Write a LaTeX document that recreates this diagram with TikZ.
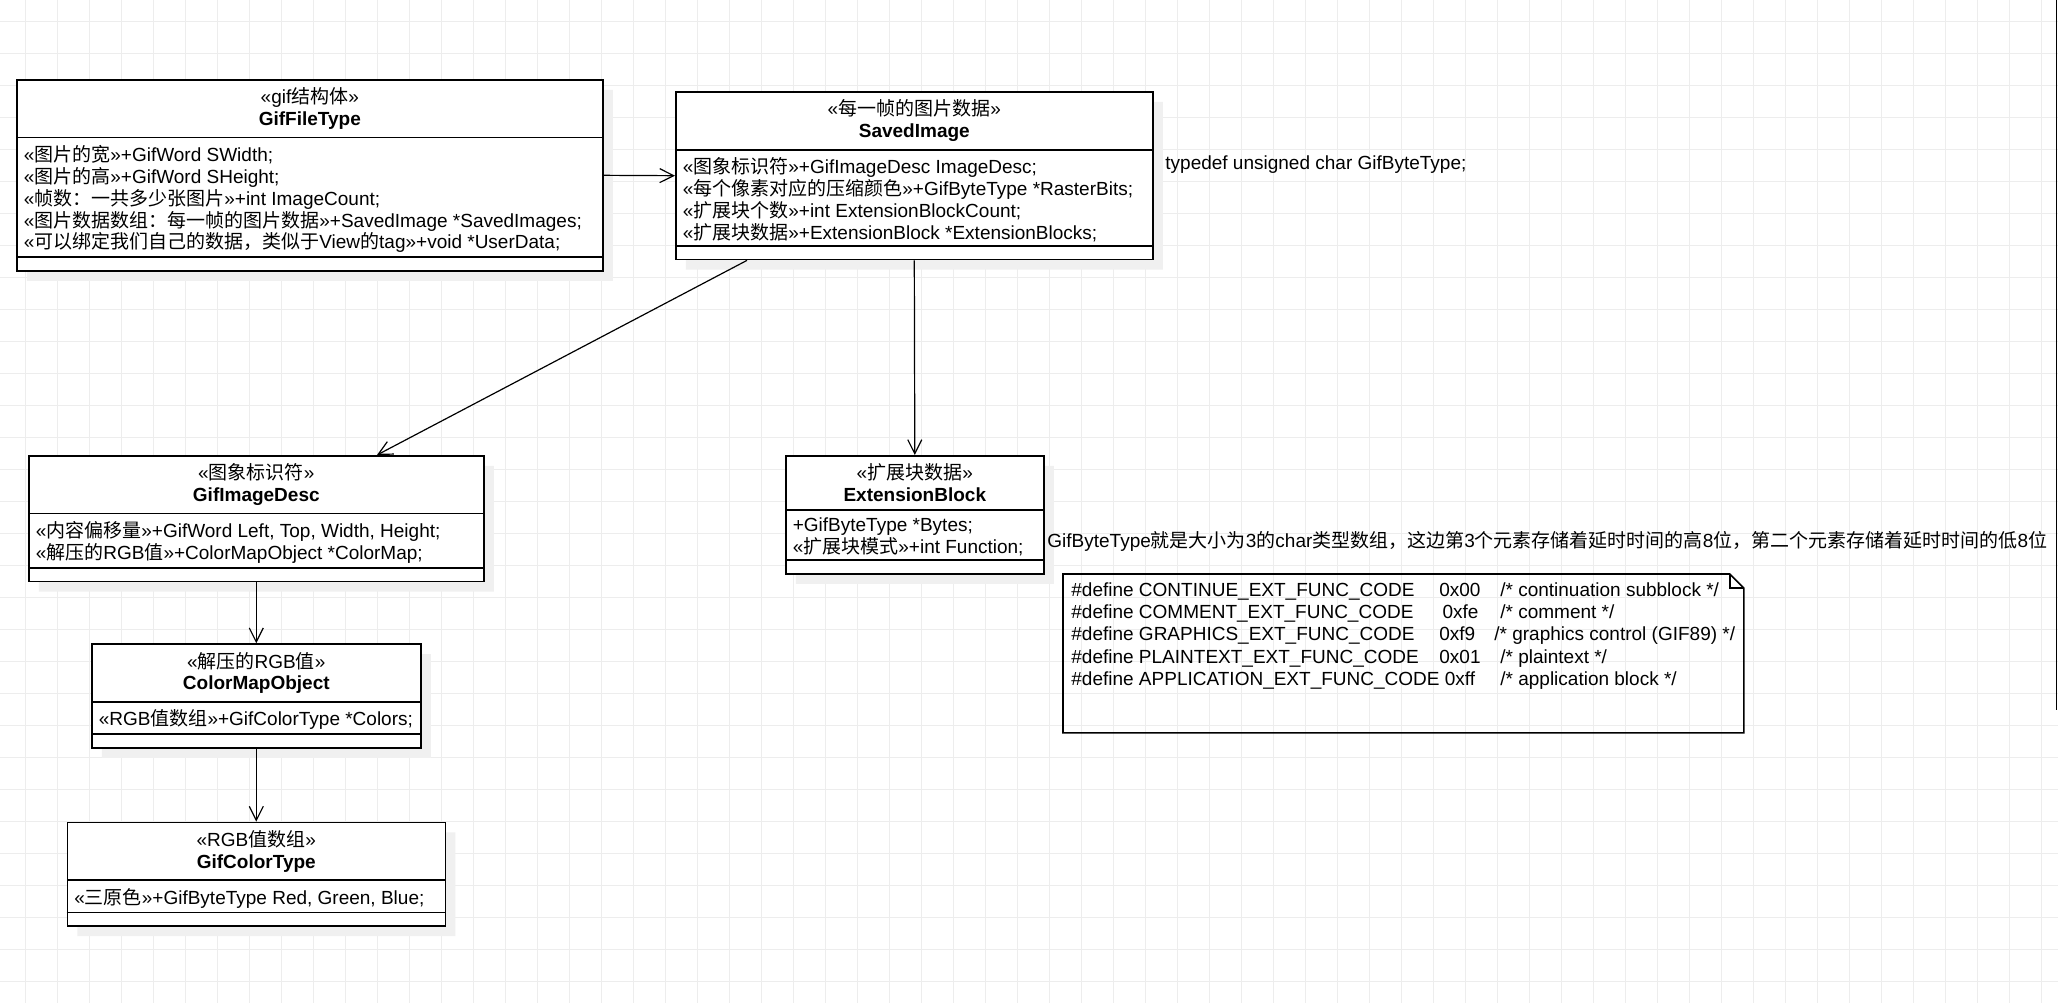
\documentclass[tikz,border=0pt]{standalone}
\usepackage{fontspec}
\setmainfont{Liberation Sans}
\newfontfamily\cjkfont{Noto Sans CJK SC}
\usetikzlibrary{arrows.meta,positioning,shapes.multipart,shadows}
\definecolor{gridgray}{RGB}{237,237,237}
\definecolor{shadowgray}{RGB}{240,240,240}
\newcommand{\zh}[1]{{\cjkfont #1}}
\newcommand{\umlhead}[3]{\parbox{#1}{\centering #2\\\textbf{#3}}}
% attribute compartment, with room left for the empty operation compartment
\newcommand{\umlattr}[2]{\parbox{#1}{#2\par\vspace*{5pt}}}
\newcommand{\defrow}[3]{\makebox[184pt][l]{\#define #1}\makebox[30.5pt][l]{#2}#3}

\begin{document}
\begin{tikzpicture}[
    x=0.5pt, y=-0.5pt,
    font=\fontsize{9.5}{10.9}\selectfont,
    umlclass/.style={draw,line width=0.8pt,fill=white,rectangle split,rectangle split parts=2,
      inner xsep=3.5pt,inner ysep=3.6pt,anchor=north west,
      drop shadow={shadow xshift=5pt,shadow yshift=-5pt,fill=shadowgray,opacity=1}},
    arrow/.style={-{Straight Barb[length=7pt,width=7pt]},line width=0.6pt},
    gridline/.style={gridgray,line width=0.5pt},
    notebox/.style={anchor=north west,inner xsep=4pt,inner ysep=4pt,align=left},
    plain/.style={inner sep=0pt,anchor=west}
  ]
    % canvas and grid
    \useasboundingbox[fill=white] (0,0) rectangle (2058,1003);
    \foreach \i in {0,...,63} {\draw[gridline] ({25.3+32*\i},0) -- ++(0,1003);}
    \foreach \j in {0,...,30} {\draw[gridline] (0,{21.3+32*\j}) -- ++(2058,0);}

    % classes
    \node[umlclass] (gft) at (16,79) {\umlhead{286pt}{«gif\zh{结构体}»}{GifFileType}
      \nodepart{two}\umlattr{286pt}{«\zh{图片的宽}»+GifWord SWidth;\\
      «\zh{图片的高}»+GifWord SHeight;\\
      «\zh{帧数：一共多少张图片}»+int ImageCount;\\
      «\zh{图片数据数组：每一帧的图片数据}»+SavedImage *SavedImages;\\
      «\zh{可以绑定我们自己的数据，类似于}View\zh{的}tag»+void *UserData;}};
    \node[umlclass] (si) at (675,91) {\umlhead{231.5pt}{«\zh{每一帧的图片数据}»}{SavedImage}
      \nodepart{two}\umlattr{231.5pt}{«\zh{图象标识符}»+GifImageDesc ImageDesc;\\
      «\zh{每个像素对应的压缩颜色}»+GifByteType *RasterBits;\\
      «\zh{扩展块个数}»+int ExtensionBlockCount;\\
      «\zh{扩展块数据}»+ExtensionBlock *ExtensionBlocks;}};
    \node[umlclass] (gid) at (28,455) {\umlhead{220.5pt}{«\zh{图象标识符}»}{GifImageDesc}
      \nodepart{two}\umlattr{220.5pt}{«\zh{内容偏移量}»+GifWord Left, Top, Width, Height;\\
      «\zh{解压的}RGB\zh{值}»+ColorMapObject *ColorMap;}};
    \node[umlclass] (eb) at (785,455) {\umlhead{122pt}{«\zh{扩展块数据}»}{ExtensionBlock}
      \nodepart{two}\umlattr{122pt}{+GifByteType *Bytes;\\
      «\zh{扩展块模式}»+int Function;}};
    \node[umlclass,below=30.5pt of gid] (cmo) {\umlhead{157.5pt}{«\zh{解压的}RGB\zh{值}»}{ColorMapObject}
      \nodepart{two}\umlattr{157.5pt}{\mbox{«RGB\zh{值数组}»+GifColorType *Colors;}}};
    \node[umlclass,below=36.5pt of cmo] (gct) {\umlhead{182pt}{«RGB\zh{值数组}»}{GifColorType}
      \nodepart{two}\umlattr{182pt}{«\zh{三原色}»+GifByteType Red, Green, Blue;}};

    % empty operation compartments
    \foreach \c in {gft,si,gid,eb,cmo,gct}
      \draw[line width=0.8pt] ([yshift=7.25pt]\c.south west) -- ([yshift=7.25pt]\c.south east);

    % free texts
    \node[plain] (typedef) at (1165,165) {typedef unsigned char GifByteType;};
    \node[plain] (bytesnote) at (1047,541) {GifByteType\zh{就是大小为}3\zh{的}char\zh{类型数组，这边第}3\zh{个元素存储着延时时间的高}8\zh{位，第二个元素存储着延时时间的低}8\zh{位}};

    % note with folded corner
    \node[notebox] (defs) at (1063,574) {\parbox[t][71pt][t]{332pt}{\fontsize{9.5}{11.2}\selectfont
      \defrow{CONTINUE\_EXT\_FUNC\_CODE}{0x00}{/* continuation subblock */}\\
      \defrow{COMMENT\_EXT\_FUNC\_CODE}{\,0xfe}{/* comment */}\\
      \defrow{GRAPHICS\_EXT\_FUNC\_CODE}{0xf9}{\hspace{-3pt}/* graphics control (GIF89) */}\\
      \defrow{PLAINTEXT\_EXT\_FUNC\_CODE}{0x01}{/* plaintext */}\\
      \makebox[214.5pt][l]{\#define APPLICATION\_EXT\_FUNC\_CODE 0xff}/* application block */}};
    \draw[line width=0.8pt] (defs.north west) -- ([xshift=-7pt]defs.north east) -- ([yshift=-7pt]defs.north east)
      -- (defs.south east) -- (defs.south west) -- cycle;
    \draw[line width=0.8pt] ([xshift=-7pt]defs.north east) |- ([yshift=-7pt]defs.north east);

    \draw[line width=0.8pt] (2056.5,0) -- (2056.5,710);

    % connectors
    \draw[arrow] (gft.east) -- (si.west);
    \draw[arrow] ([xshift=36pt]si.south west) -- ([xshift=174.5pt]gid.north west);
    \draw[arrow] (si.south) -- (eb.north);
    \draw[arrow] (gid.south) -- (cmo.north);
    \draw[arrow] (cmo.south) -- (gct.north);
  \end{tikzpicture}
\end{document}
